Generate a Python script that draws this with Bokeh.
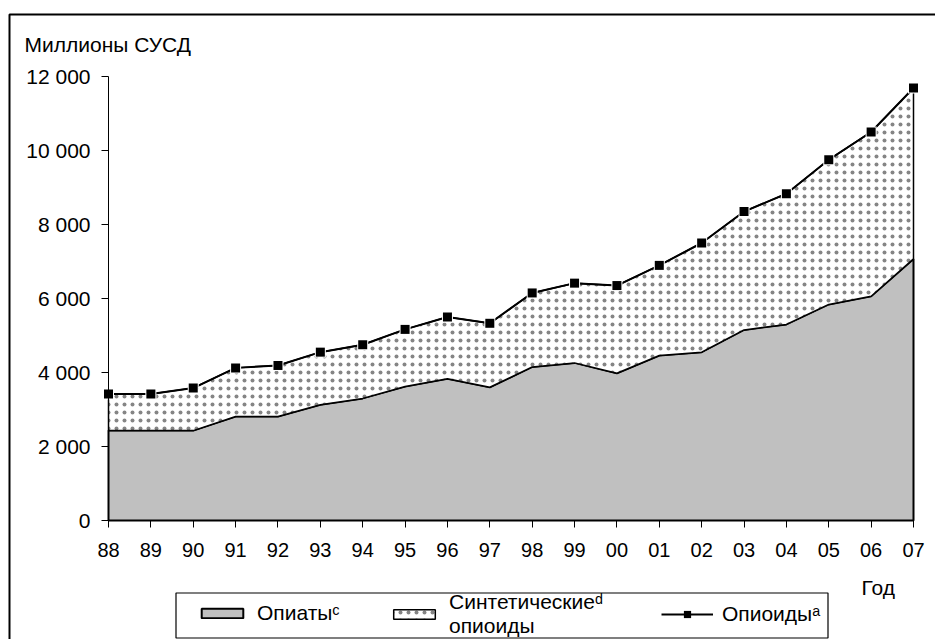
from bokeh.plotting import figure
from bokeh.models import (FixedTicker, Legend, LegendItem, Range1d, Label,
                          BoxAnnotation)
from bokeh.embed import file_html
from bokeh.resources import INLINE

# ---- data ----
years = ["88", "89", "90", "91", "92", "93", "94", "95", "96", "97",
         "98", "99", "00", "01", "02", "03", "04", "05", "06", "07"]
opiates = [2430, 2430, 2430, 2810, 2810, 3130, 3300, 3620, 3830, 3600,
           4150, 4260, 3980, 4460, 4550, 5150, 5300, 5840, 6060, 7070]
total_opioids = [3420, 3420, 3580, 4125, 4190, 4550, 4750, 5165, 5500, 5330,
                 6150, 6415, 6350, 6895, 7500, 8350, 8830, 9750, 10500, 11690]
y_ticks = [0, 2000, 4000, 6000, 8000, 10000, 12000]
y_tick_labels = ["0", "2 000", "4 000", "6 000", "8 000", "10 000", "12 000"]
y_title = "Миллионы СУСД"
x_title = "Год"
label_opiates = "Опиатыᶜ"
label_synthetic = "Синтетическиеᵈ\nопиоиды"
label_opioids = "Опиоидыᵃ"

FONT = "Liberation Sans"
n = len(years)
xs = list(range(n))

# ---- layout geometry (pixels) ----
W, H = 935, 639
AX_LEFT, AX_RIGHT, AX_TOP, AX_BOTTOM = 108, 913, 76, 520
X_SCALE = (AX_RIGHT - AX_LEFT) / (n - 1)
Y_SCALE = (AX_BOTTOM - AX_TOP) / (y_ticks[-1] - y_ticks[0])


def dx(px):
    return (px - AX_LEFT) / X_SCALE


def dy(py):
    return (AX_BOTTOM - py) / Y_SCALE + y_ticks[0]


p = figure(width=W, height=H, output_backend="svg", toolbar_location=None,
           x_range=Range1d(dx(0), dx(W)), y_range=Range1d(dy(H), dy(0)),
           min_border=0, background_fill_color="white",
           border_fill_color="white", outline_line_color=None)
p.grid.visible = False

# opiates area (grey)
grey = p.patch(xs + xs[::-1], opiates + [0] * n,
               fill_color="#C0C0C0", line_color="black", line_width=2)
# synthetic opioids area (dotted), stacked between opiates and total
syn = p.patch(xs + xs[::-1], total_opioids + opiates[::-1],
              fill_color="white", hatch_pattern="dot", hatch_color="#858585",
              hatch_scale=8, hatch_weight=1.6,
              line_color="black", line_width=1.5)
# total opioids line with square markers
tl = p.line(xs, total_opioids, line_color="black", line_width=2)
p.scatter(xs, total_opioids, marker="square", size=11, fill_color="white",
          line_color=None)
tm = p.scatter(xs, total_opioids, marker="square", size=9,
               fill_color="black", line_color=None)

# axes (drawn at the data origin, limited to the data extent)
for ax in (p.xaxis[0], p.yaxis[0]):
    ax.fixed_location = 0
    ax.axis_line_color = "black"
    ax.axis_line_width = 1
    ax.major_tick_line_color = "black"
    ax.major_tick_out = 7
    ax.major_tick_in = 0
    ax.minor_tick_line_color = None
    ax.major_label_text_font = FONT
    ax.major_label_text_color = "black"

p.xaxis.bounds = (0, n - 1)
p.xaxis.ticker = FixedTicker(ticks=xs)
p.xaxis.major_label_overrides = {i: lab for i, lab in enumerate(years)}
p.xaxis.major_label_standoff = 15
p.xaxis.major_label_text_font_size = "20px"
p.yaxis.bounds = (y_ticks[0], y_ticks[-1])
p.yaxis.ticker = FixedTicker(ticks=y_ticks)
p.yaxis.major_label_overrides = {t: lab for t, lab in zip(y_ticks, y_tick_labels)}
p.yaxis.major_label_standoff = 11
p.yaxis.major_label_text_font_size = "21px"

# outer chart frame and legend frame
p.add_layout(BoxAnnotation(left=dx(9), top=dy(14), right=dx(W + 20),
                           bottom=dy(H + 20), fill_color=None,
                           line_color="black", line_alpha=1, line_width=2))
p.add_layout(BoxAnnotation(left=dx(175.5), right=dx(827.5), top=dy(592.5),
                           bottom=dy(637.5), fill_color=None,
                           line_color="black", line_alpha=1, line_width=1.2))

# titles
p.add_layout(Label(x=dx(24), y=dy(44), text=y_title, text_font=FONT,
                   text_font_size="21px", text_color="black",
                   text_baseline="alphabetic", text_align="left"))
p.add_layout(Label(x=dx(861), y=dy(587), text=x_title, text_font=FONT,
                   text_font_size="21px", text_color="black",
                   text_baseline="alphabetic", text_align="left"))


def make_legend(label, renderers, left_px, bottom_px, gh):
    return Legend(items=[LegendItem(label=label, renderers=renderers)],
                  location=(left_px, H - bottom_px), orientation="horizontal",
                  padding=0, margin=0, border_line_color=None,
                  background_fill_alpha=0, glyph_width=52, glyph_height=gh,
                  label_standoff=9, spacing=0, label_text_font=FONT,
                  label_text_font_size="21px", label_text_color="black",
                  label_text_line_height=0.9)


p.add_layout(make_legend(label_opiates, [grey], 196, 625, 12))
p.add_layout(make_legend(label_synthetic, [syn], 388, 638, 12))
p.add_layout(make_legend(label_opioids, [tl, tm], 661, 626, 18))

open("out.html", "w").write(file_html(p, INLINE))
